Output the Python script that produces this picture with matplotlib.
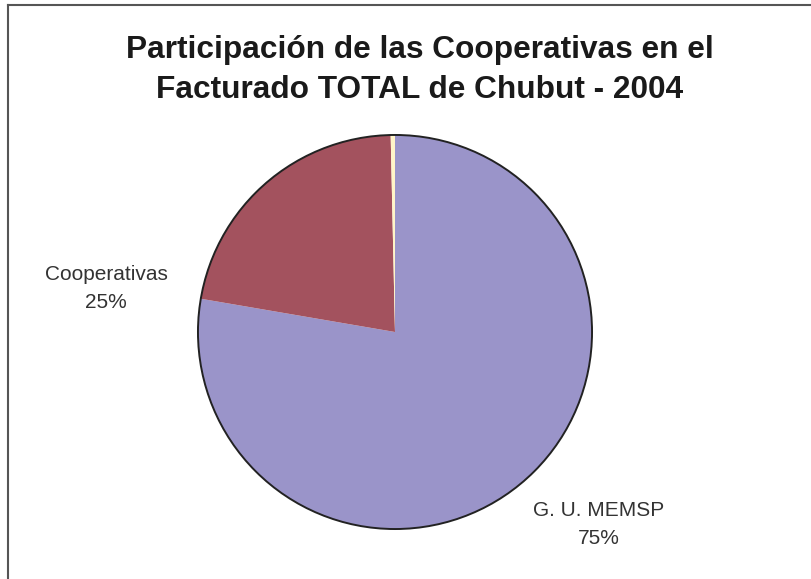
import matplotlib
matplotlib.use('Agg')

import matplotlib.pyplot as plt
from matplotlib.lines import Line2D
from matplotlib.patches import Circle

# ============================================================
# DATA
# ============================================================

labels = ['G. U. MEMSP', 'Cooperativas', 'Otros']
values = [77.7, 21.95, 0.35]
label_texts = ['G. U. MEMSP\n75%', 'Cooperativas\n25%']
colors = ['#9a94c9', '#a3525e', '#fff5c8']

title = 'Participación de las Cooperativas en el\nFacturado TOTAL de Chubut - 2004'

# ============================================================
# FIGURE
# ============================================================

W, H = 812, 579
fig = plt.figure(figsize=(W / 100, H / 100), dpi=100, facecolor='white')
plt.rcParams['font.family'] = ['Liberation Sans', 'DejaVu Sans']

# pie centre (395, 332) px, radius 199 px
cx, cy, r = 395, 332, 199
ax = fig.add_axes([(cx - r) / W, (H - cy - r) / H, 2 * r / W, 2 * r / H])

ax.pie(
    values,
    colors=colors,
    startangle=90,
    counterclock=False,
    radius=1,
    wedgeprops=dict(linewidth=0),
)
ax.add_patch(Circle((0, 0), 1, fill=False, edgecolor='#222222', linewidth=1.4))
ax.set_xlim(-1.01, 1.01)
ax.set_ylim(-1.01, 1.01)
ax.set_aspect('equal')
ax.axis('off')

# ------------------------------------------------------------
# labels (pixel positions)
# ------------------------------------------------------------

fig.text(599 / W, 1 - 524 / H, label_texts[0], ha='center', va='center',
         fontsize=15, color='#333333', linespacing=1.6)
fig.text(106 / W, 1 - 288 / H, label_texts[1], ha='center', va='center',
         fontsize=15, color='#333333', linespacing=1.6)

fig.text(420 / W, 1 - 70 / H, title, ha='center', va='center',
         fontsize=22.8, fontweight='bold', color='#1a1a1a', linespacing=1.45)

# chart border (only top and left visible)
fig.add_artist(Line2D([8 / W, 1], [1 - 5 / H, 1 - 5 / H], color='#555555', linewidth=1.5))
fig.add_artist(Line2D([8 / W, 8 / W], [0, 1 - 5 / H], color='#555555', linewidth=1.5))

plt.savefig('out.png', dpi=100, facecolor='white')
plt.close()
